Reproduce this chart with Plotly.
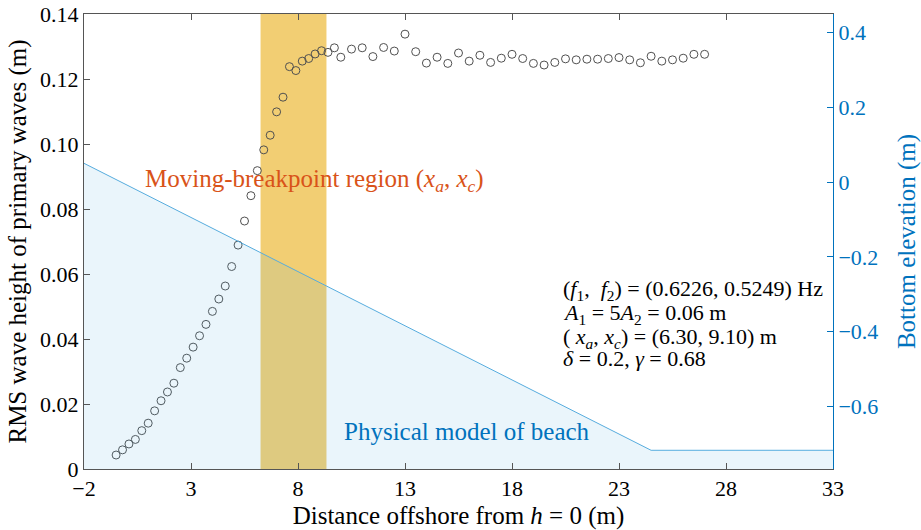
import plotly.graph_objects as go

# ---------------- data ----------------
dist_x = [-0.5, -0.2, 0.1, 0.4, 0.7, 1.0, 1.3, 1.6, 1.9, 2.2,
          2.5, 2.8, 3.1, 3.4, 3.7, 4.0, 4.3, 4.6, 4.9, 5.2,
          5.5, 5.8, 6.1, 6.4, 6.7, 7.0, 7.3, 7.6, 7.9, 8.2,
          8.5, 8.8, 9.1, 9.4, 9.7, 10.0, 10.5, 11.0, 11.5, 12.0,
          12.5, 13.0, 13.5, 14.0, 14.5, 15.0, 15.5, 16.0, 16.5, 17.0,
          17.5, 18.0, 18.5, 19.0, 19.5, 20.0, 20.5, 21.0, 21.5, 22.0,
          22.5, 23.0, 23.5, 24.0, 24.5, 25.0, 25.5, 26.0, 26.5, 27.0]
hrms = [0.0043, 0.0059, 0.0077, 0.0091, 0.0118, 0.0141, 0.0179, 0.0210, 0.0237, 0.0264,
        0.0312, 0.0341, 0.0375, 0.0410, 0.0445, 0.0485, 0.0523, 0.0563, 0.0623, 0.0689,
        0.0763, 0.0841, 0.0918, 0.0982, 0.1027, 0.1099, 0.1144, 0.1238, 0.1226, 0.1255,
        0.1263, 0.1277, 0.1287, 0.1282, 0.1296, 0.1267, 0.1292, 0.1296, 0.1269, 0.1297,
        0.1286, 0.1338, 0.1284, 0.1249, 0.1267, 0.1248, 0.1280, 0.1255, 0.1273, 0.1251,
        0.1264, 0.1276, 0.1263, 0.1248, 0.1243, 0.1251, 0.1262, 0.1259, 0.1261, 0.1261,
        0.1263, 0.1266, 0.1259, 0.1250, 0.1270, 0.1255, 0.1259, 0.1264, 0.1276, 0.1276]

bed_x = [-2.0, 24.5, 33.0]
bed_z = [0.05, -0.717, -0.717]

band_x = [6.25, 9.33]          # moving-breakpoint region as drawn

x_range = [-2, 33]
y_range = [0, 0.14]
y2_range = [-0.767, 0.449]

x_ticks = [-2, 3, 8, 13, 18, 23, 28, 33]
y_ticks = [0, 0.02, 0.04, 0.06, 0.08, 0.10, 0.12, 0.14]
y_ticktext = ["0", "0.02", "0.04", "0.06", "0.08", "0.10", "0.12", "0.14"]
y2_ticks = [-0.6, -0.4, -0.2, 0, 0.2, 0.4]
y2_ticktext = ["\u22120.6", "\u22120.4", "\u22120.2", "0", "0.2", "0.4"]

param_lines = [
    "(<i>f</i><sub>1</sub>,  <i>f</i><sub>2</sub>) = (0.6226, 0.5249) Hz",
    "<i>A</i><sub>1</sub> = 5<i>A</i><sub>2</sub> = 0.06 m",
    "( <i>x</i><sub><i>a</i></sub>, <i>x</i><sub><i>c</i></sub>) = (6.30, 9.10) m",
    "<i>\u03b4</i> = 0.2, <i>\u03b3</i> = 0.68",
]
param_y = [0.0550, 0.0478, 0.0404, 0.0340]

# ---------------- style ----------------
FONT = "'Times New Roman', 'Liberation Serif', 'DejaVu Serif', serif"
BLUE = "#0072BD"
ORANGE = "#D95319"
GRAY = "#555555"

fig = go.Figure()

fig.add_trace(go.Scatter(
    x=dist_x, y=hrms, mode="markers",
    marker=dict(symbol="circle-open", size=8, color="#505050", line=dict(width=1)),
    yaxis="y", showlegend=False, hoverinfo="skip"))

fig.add_trace(go.Scatter(
    x=[x_range[0], x_range[1]], y=[y2_range[0], y2_range[0]],
    mode="lines", line=dict(width=0), yaxis="y2",
    showlegend=False, hoverinfo="skip"))
fig.add_trace(go.Scatter(
    x=bed_x, y=bed_z, mode="lines", yaxis="y2",
    line=dict(color="#56ACDE", width=1),
    fill="tonexty", fillcolor="rgba(80,170,220,0.12)",
    showlegend=False, hoverinfo="skip"))

fig.add_shape(type="rect", xref="x", yref="paper",
              x0=band_x[0], x1=band_x[1], y0=0, y1=1,
              fillcolor="#F2CE73", line=dict(width=0), layer="below")

fig.add_annotation(x=0.77, y=0.0889, xref="x", yref="y",
                   text="Moving-breakpoint region (<i>x</i><sub><i>a</i></sub>, <i>x</i><sub><i>c</i></sub>)",
                   showarrow=False, xanchor="left", yanchor="middle",
                   font=dict(family=FONT, size=25, color=ORANGE))
fig.add_annotation(x=10.04, y=0.0114, xref="x", yref="y",
                   text="Physical model of beach",
                   showarrow=False, xanchor="left", yanchor="middle",
                   font=dict(family=FONT, size=25, color=BLUE))
for txt, yy in zip(param_lines, param_y):
    fig.add_annotation(x=20.28, y=yy, xref="x", yref="y", text=txt,
                       showarrow=False, xanchor="left", yanchor="middle",
                       font=dict(family=FONT, size=22, color="black"))

fig.update_layout(
    width=921, height=530,
    margin=dict(l=84, r=88, t=14, b=61, autoexpand=False),
    plot_bgcolor="white", paper_bgcolor="white",
    font=dict(family=FONT, size=22, color="black"),
    xaxis=dict(range=x_range, tickvals=x_ticks, automargin=False,
               ticktext=[("\u2212" + str(-v)) if v < 0 else str(v) for v in x_ticks],
               showline=True, linecolor=GRAY, linewidth=1, mirror="ticks",
               ticks="inside", ticklen=6, tickcolor=GRAY, showgrid=False, zeroline=False,
               tickfont=dict(family=FONT, size=22),
               title=dict(text="Distance offshore from <i>h</i> = 0 (m)", standoff=8,
                          font=dict(family=FONT, size=25))),
    yaxis=dict(range=y_range, tickvals=y_ticks, ticktext=y_ticktext, automargin=False,
               showline=True, linecolor=GRAY, linewidth=1,
               ticks="inside", ticklen=6, tickcolor=GRAY, showgrid=False, zeroline=False,
               tickfont=dict(family=FONT, size=22),
               title=dict(text="RMS wave height of primary waves (m)", standoff=6,
                          font=dict(family=FONT, size=25))),
    yaxis2=dict(range=y2_range, overlaying="y", side="right", automargin=False,
                tickvals=y2_ticks, ticktext=y2_ticktext,
                showline=True, linecolor=BLUE, linewidth=1,
                ticks="inside", ticklen=6, tickcolor=BLUE, showgrid=False, zeroline=False,
                tickfont=dict(family=FONT, size=22, color=BLUE),
                title=dict(text="Bottom elevation (m)", standoff=20,
                           font=dict(family=FONT, size=25, color=BLUE))),
)

fig.write_html("out.html")
